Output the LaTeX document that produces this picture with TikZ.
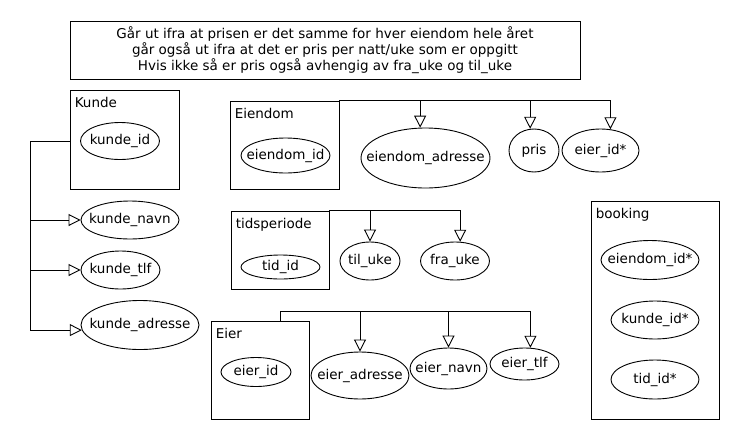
\documentclass[tikz,border=0pt]{standalone}
\usepackage{fontspec}
\setmainfont{DejaVu Sans}
\usetikzlibrary{shapes.geometric, arrows.meta, positioning, calc}

\begin{document}
\begin{tikzpicture}[
  x=1pt, y=-1pt,
  font=\fontsize{13.5}{15.7}\selectfont,
  entity/.style={rectangle, draw, line width=0.9pt, inner sep=0pt},
  attr/.style n args={3}{ellipse, draw, line width=0.9pt, inner sep=0pt, minimum width=#1, minimum height=#2, label={center:#3}},
  tag/.style={anchor=base west, inner sep=0pt},
  arrow/.style={-{Triangle[open, length=12pt, width=12pt]}, line width=0.9pt}
]
  \useasboundingbox (0,0) rectangle (740,440);

  % Note
  \node[entity, minimum width=510pt, minimum height=58pt, align=center] (note) at (325,50)
    {Går ut ifra at prisen er det samme for hver eiendom hele året\\
     går også ut ifra at det er pris per natt/uke som er oppgitt\\
     Hvis ikke så er pris også avhengig av fra\_uke og til\_uke};

  % Kunde
  \node[entity, minimum width=109pt, minimum height=99pt] (kunde) at (124.5,139.5) {};
  \node[tag] at ([xshift=5pt, yshift=-17.5pt]kunde.north west) {Kunde};
  \node[attr={79pt}{37pt}{kunde\_id}] (kid) at (120,141) {};
  \node[attr={98pt}{38pt}{kunde\_navn}] (knavn) at (130,220) {};
  \node[attr={79pt}{38pt}{kunde\_tlf}] (ktlf) at (120.5,270) {};
  \node[attr={118pt}{49pt}{kunde\_adresse}] (kadr) at (140,325) {};
  \coordinate (kspine) at (30,141);

  % Eiendom
  \node[entity, minimum width=109pt, minimum height=88pt] (eiendom) at (284.5,145) {};
  \node[tag] at ([xshift=5pt, yshift=-17.5pt]eiendom.north west) {Eiendom};
  \node[attr={89pt}{35pt}{eiendom\_id}] (eid) at (285.5,155.5) {};
  \node[attr={129pt}{60pt}{eiendom\_adresse}] (eadr) at (425.5,158) {};
  \node[attr={50pt}{43pt}{pris}] (pris) at (534,150.5) {};
  \node[attr={77pt}{43pt}{eier\_id*}] (eierid) at (600.5,150.5) {};

  % tidsperiode
  \node[entity, minimum width=98pt, minimum height=78pt] (tid) at (280,250) {};
  \node[tag] at ([xshift=5pt, yshift=-17.5pt]tid.north west) {tidsperiode};
  \node[attr={79pt}{24pt}{tid\_id}] (tidid) at (280.5,267) {};
  \node[attr={60pt}{38pt}{til\_uke}] (tilu) at (370,261) {};
  \node[attr={69pt}{38pt}{fra\_uke}] (frau) at (455,261) {};

  % Eier
  \node[entity, minimum width=98pt, minimum height=98pt] (eier) at (260,370) {};
  \node[tag] at ([xshift=5pt, yshift=-17.5pt]eier.north west) {Eier};
  \node[attr={70pt}{29pt}{eier\_id}] (eieid) at (256,372) {};
  \node[attr={98pt}{47pt}{eier\_adresse}] (eieradr) at (360,375.5) {};
  \node[attr={77pt}{41pt}{eier\_navn}] (eiernavn) at (448.5,368.5) {};
  \node[attr={69pt}{32pt}{eier\_tlf}] (eiertlf) at (524.5,364) {};
  \coordinate (eierrail) at (280,311);

  % booking
  \node[entity, minimum width=128pt, minimum height=218pt] (booking) at (655,310) {};
  \node[tag] at ([xshift=5pt, yshift=-17.5pt]booking.north west) {booking};
  \node[attr={98pt}{39pt}{eiendom\_id*}] (beid) at (650,260) {};
  \node[attr={88pt}{38pt}{kunde\_id*}] (bkid) at (655,320) {};
  \node[attr={88pt}{39pt}{tid\_id*}] (btid) at (655,379.5) {};

  % Arrows
  \draw[arrow] (kunde.west |- kid) -| (kspine |- knavn) -- (knavn.west);
  \draw[arrow] (kunde.west |- kid) -| (kspine |- ktlf) -- (ktlf.west);
  \draw[arrow] (kunde.west |- kid) -| (kspine |- kadr.185) -- (kadr.185);

  \draw[arrow] (eiendom.north east) -| (eadr.100);
  \draw[arrow] (eiendom.north east) -| (pris.100);
  \draw[arrow] (eiendom.north east) -| (eierid.65);

  \draw[arrow] (tid.north east) -| (tilu.north);
  \draw[arrow] (tid.north east) -| (frau.75);

  \draw[arrow] (eier.north -| eierrail) -- (eierrail) -| (eieradr.north);
  \draw[arrow] (eier.north -| eierrail) -- (eierrail) -| (eiernavn.north);
  \draw[arrow] (eier.north -| eierrail) -- (eierrail) -| (eiertlf.70);
\end{tikzpicture}
\end{document}
